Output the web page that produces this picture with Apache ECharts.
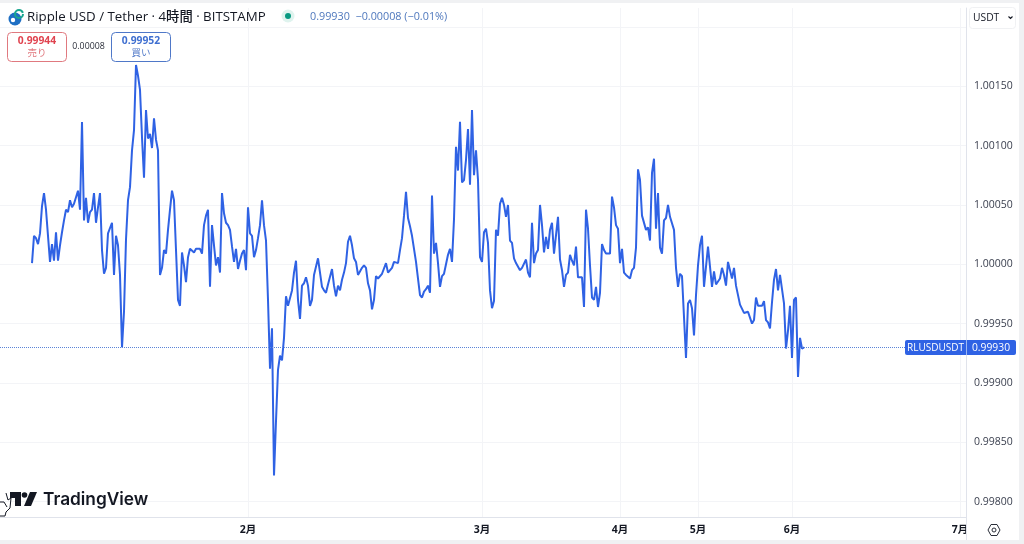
<!DOCTYPE html>
<html><head><meta charset="utf-8">
<style>html,body{margin:0;padding:0;background:#fff}#c{width:1024px;height:544px}</style>
<script src="https://cdn.jsdelivr.net/npm/echarts@6/dist/echarts.min.js"></script>
</head><body><div id="c"></div>
<script>
// Price deviation from 1.00000, in units of 0.00001, one reading per slot
const deviation = [1,24,22,17,26,49,60,46,24,2,17,3,27,3,16,27,37,46,44,54,48,51,50,62,46,120,37,56,35,44,46,60,35,48,60,12,-8,-3,26,26,35,-9,24,16,-9,-70,-40,21,54,65,96,113,168,159,147,107,73,130,106,110,98,123,105,96,-9,-3,12,9,29,46,62,54,12,-30,-35,10,-1,-15,6,13,12,10,13,12,13,9,33,41,46,-19,33,16,-1,6,-7,60,43,35,33,29,15,2,13,-4,3,9,12,-5,48,26,24,6,12,22,33,54,33,20,-30,-88,-54,-178,-132,-89,-77,-81,-62,-27,-35,-35,-22,-7,3,-30,-46,-18,-16,-11,-18,-35,-30,-9,-9,5,-7,-19,-22,-24,-17,-16,-4,-18,-27,-18,-22,-13,-7,1,19,24,16,5,2,-9,-10,-3,-1,-3,-16,-22,-38,-30,-10,-12,-11,-8,-7,1,-7,-7,-3,2,3,1,12,22,41,61,39,32,24,13,2,-12,-26,-28,-23,-21,-18,-24,58,9,18,1,-19,-10,-8,-9,8,13,2,38,99,79,120,69,71,88,114,67,130,75,96,71,6,2,27,30,18,-22,-37,-31,29,24,51,56,50,40,50,20,18,5,1,2,-5,-3,-2,4,-7,-11,35,1,9,12,50,33,10,23,13,29,35,9,10,40,4,-5,-19,-9,-7,8,3,-1,15,-11,-11,-11,-36,46,30,-1,-28,-30,-19,-36,-24,17,12,9,9,9,57,48,33,30,1,13,-7,-9,-9,-12,-5,-3,14,80,71,41,40,29,31,20,77,89,30,60,14,9,37,39,50,40,40,29,-3,-19,-8,-10,-10,-79,-33,-30,-37,-60,-26,-1,16,24,-19,-2,15,-2,-19,-6,-17,-16,-12,-3,-9,-18,2,-5,-12,-3,-18,-19,-34,-35,-41,-40,-40,-41,-50,-47,-28,-35,-35,-35,-31,-47,-49,-54,-32,-13,-4,-22,-9,-8,-33,-71,-56,-35,-79,-30,-28,-95,-62,-71,-70];
const leadingEmptySlots = 16;
const totalSlots = 484;
const monthLabels = ['2月','3月','4月','5月','6月','7月'];
const monthSlots = [124,241,310,349,396,480];
const priceTicks = [0.998,0.9985,0.999,0.9995,1,1.0005,1.001,1.0015,1.002];
const priceLabels = [0.998,0.9985,0.999,0.9995,1,1.0005,1.001,1.0015];
const lastPrice = 0.9993;
const priceMin = 0.99787, priceMax = 1.00216;

const categories = Array.from({length: totalSlots}, () => '');
monthSlots.forEach((s, i) => { categories[s] = monthLabels[i]; });
const seriesData = Array.from({length: totalSlots}, (_, i) => {
  const v = deviation[i - leadingEmptySlots];
  return v === undefined ? null : +(1 + v / 100000).toFixed(5);
});

const FONT = '"Open Sans","Noto Sans CJK JP",sans-serif';
const BLUE = '#2f62e4';
const isMonth = (i, v) => v !== '';
const t = (x, y, text, size, fill, extra) => ({type:'text', z:20, style:Object.assign({x, y, text, fontSize:size, fill, fontFamily:FONT, verticalAlign:'middle', align:'left'}, extra||{})});
const rect = (x, y, w, h, fill, stroke, r, z) => ({type:'rect', z:z||15, shape:{x, y, width:w, height:h, r:r||0}, style:{fill:fill, stroke:stroke||null, lineWidth:1}});

const chart = echarts.init(document.getElementById('c'));
chart.setOption({
  animation:false,
  backgroundColor:'#fff',
  grid:{left:0, right:58, top:8, height:509, containLabel:false},
  xAxis:{type:'category', data:categories, boundaryGap:false,
    axisLine:{show:true, lineStyle:{color:'#e0e3eb'}}, axisTick:{show:false},
    axisLabel:{interval:isMonth, color:'#131722', fontSize:10.5, fontWeight:'bold', fontFamily:FONT, margin:8, hideOverlap:false},
    splitLine:{show:true, interval:isMonth, lineStyle:{color:'#f3f4f7', width:1}}},
  yAxis:{type:'value', position:'right', min:priceMin, max:priceMax, scale:true,
    axisLine:{show:true, lineStyle:{color:'#e0e3eb'}},
    axisTick:{show:false, customValues:priceTicks},
    axisLabel:{customValues:priceLabels, color:'#3c4150', fontSize:10.5, fontFamily:FONT, margin:8, formatter:v=>Number(v).toFixed(5)},
    splitLine:{show:true, lineStyle:{color:'#f3f4f7', width:1}}},
  series:[{type:'line', data:seriesData, showSymbol:false, connectNulls:false, smooth:false,
    lineStyle:{color:BLUE, width:2}, itemStyle:{color:BLUE},
    markLine:{silent:true, symbol:'none', precision:5, label:{show:false}, animation:false,
      lineStyle:{color:'#5b84d8', type:'dotted', width:1},
      data:[{yAxis:lastPrice}]}}],
  graphic:{elements:[
    // page edges
    rect(0,0,1024,3,'#f0f1f3',null,0,14),
    rect(1019,0,5,544,'#f0f1f3',null,0,14),
    rect(0,540,1024,4,'#f0f1f3',null,0,14),
    rect(966.5,518,52,22,'#fff',null,0,14),
    {type:'line', z:15, shape:{x1:966.5,y1:517,x2:966.5,y2:540}, style:{stroke:'#e0e3eb',lineWidth:1}},
    // symbol icon
    {type:'circle', z:20, shape:{cx:15,cy:19,r:6.5}, style:{fill:'#1e6fc4'}},
    {type:'arc', z:20, shape:{cx:19,cy:14,r:4,startAngle:0,endAngle:6}, style:{fill:'none',stroke:'#1aa68f',lineWidth:2}},
    {type:'circle', z:21, shape:{cx:13,cy:20,r:2.2}, style:{fill:'#fff'}},
    // title
    t(27,17.5,'Ripple USD / Tether · 4時間 · BITSTAMP',13.3,'#131722',{fontWeight:500}),
    {type:'circle', z:20, shape:{cx:288,cy:16,r:6.5}, style:{fill:'#dff3ee'}},
    {type:'circle', z:21, shape:{cx:288,cy:16,r:3}, style:{fill:'#089981'}},
    t(310,17,'0.99930  −0.00008 (−0.01%)',10.8,'#4f78bd'),
    // sell / buy
    rect(7.5,32.5,59,29,'#fff','#e0797f',4),
    t(37,41,'0.99944',10.3,'#e0434f',{align:'center',fontWeight:'bold'}),
    t(37,53.5,'売り',9.5,'#e0797f',{align:'center'}),
    t(88.5,46,'0.00008',8.8,'#2a2e39',{align:'center'}),
    rect(111.5,32.5,59,29,'#fff','#4f78c8',4),
    t(141,41,'0.99952',10.3,'#3f6fd0',{align:'center',fontWeight:'bold'}),
    t(141,53.5,'買い',9.5,'#4f78c8',{align:'center'}),
    // currency button
    rect(969.5,7.5,46,21,'#fff','#f0f1f3',3),
    t(973,18,'USDT',10.3,'#131722'),
    {type:'polyline', z:20, shape:{points:[[1008.5,16.5],[1010.5,18.5],[1012.5,16.5]]}, style:{stroke:'#131722',fill:null,lineWidth:1.1}},
    // last price badges
    rect(905,340,111,15,BLUE,null,2),
    {type:'line', z:18, shape:{x1:966.5,y1:340,x2:966.5,y2:355}, style:{stroke:'#9db8f2',lineWidth:1}},
    t(935.5,347.8,'RLUSDUSDT',10,'#fff',{align:'center'}),
    t(991,347.8,'0.99930',10.3,'#fff',{align:'center'}),
    // TradingView logo
    {type:'polygon', z:20, shape:{points:[[10,492],[21,492],[21,506],[15,506],[15,498],[10,498]]}, style:{fill:'#131722'}},
    {type:'circle', z:20, shape:{cx:24.5,cy:495,r:2.8}, style:{fill:'#131722'}},
    {type:'polygon', z:20, shape:{points:[[30,492],[37,492],[31,506],[24,506]]}, style:{fill:'#131722'}},
    t(43,499.5,'TradingView',17.3,'#131722',{fontWeight:600,fontFamily:'Inter,"Open Sans",sans-serif'}),
    // cursor-like mark
    {type:'polyline', z:21, shape:{points:[[6,493],[8,500],[11,498],[10,508],[6,512],[5,516],[0,516]]}, style:{stroke:'#131722',fill:null,lineWidth:1}},
    {type:'polyline', z:21, shape:{points:[[0,502],[4,502],[7,507]]}, style:{stroke:'#131722',fill:null,lineWidth:1}},
    // settings icon
    {type:'polygon', z:21, shape:{points:[[988,530],[991,524.5],[997,524.5],[1000,530],[997,535.5],[991,535.5]]}, style:{fill:'#fff',stroke:'#2a2e39',lineWidth:1}},
    {type:'circle', z:21, shape:{cx:994,cy:530,r:2}, style:{fill:'#fff',stroke:'#2a2e39',lineWidth:1}}
  ]}
});
</script></body></html>
